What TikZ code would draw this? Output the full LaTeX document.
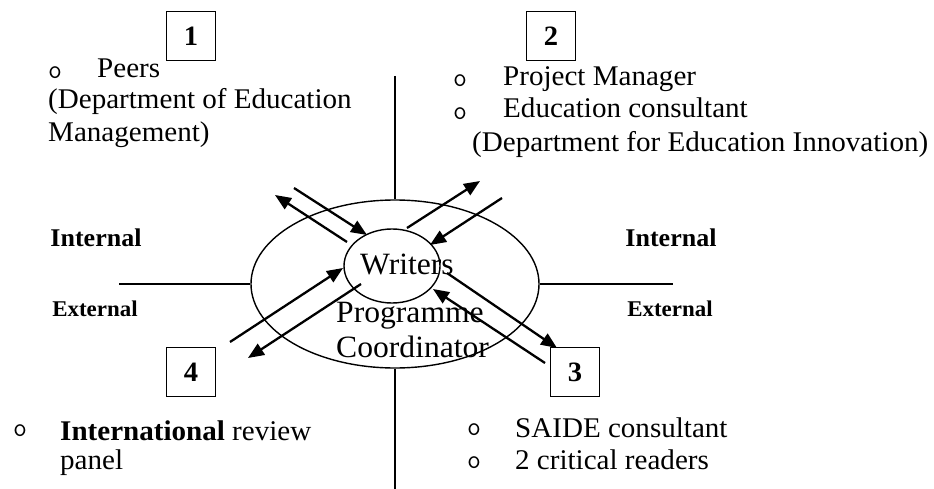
\documentclass[tikz,border=0pt]{standalone}
\usepackage{fontspec}
\setmainfont{Liberation Serif}[FakeStretch=1.02]
\usetikzlibrary{arrows.meta,shapes.geometric}
\begin{document}
\begin{tikzpicture}[x=1pt,y=-1pt,
  txt/.style={anchor=base west, inner sep=0pt, font=\fontsize{28.5}{34}\selectfont},
  ctr/.style={anchor=base west, inner sep=0pt, font=\fontsize{31}{37}\selectfont},
  lbl/.style={anchor=base, inner sep=0pt, font=\bfseries\fontsize{25.5}{30}\selectfont},
  extlbl/.style={anchor=base, inner sep=0pt, font=\bfseries\fontsize{22.5}{27}\selectfont},
  numbox/.style={draw, line width=1.3pt, minimum size=49pt, inner sep=0pt, font=\bfseries\fontsize{28}{32}\selectfont},
  bul/.style={inner sep=0pt, font=\ttfamily\fontsize{27}{30}\selectfont},
  arr/.style={line width=2.3pt, -{Triangle[length=16pt,width=13pt]}},
  thinline/.style={line width=1.4pt}
]
\useasboundingbox (0,0) rectangle (934,489);

% ellipses
\node[ellipse, draw, thinline, minimum width=288pt, minimum height=168pt, inner sep=0pt] (outer) at (395,284) {};
\node[ellipse, draw, thinline, minimum width=96pt, minimum height=74pt, inner sep=0pt] (inner) at (392,266) {};

% axis lines
\coordinate (hl) at (119,284);
\coordinate (hr) at (673,284);
\coordinate (vt) at (395,76);
\coordinate (vb) at (395,489);
\draw[thinline] (hl) -- (outer.west);
\draw[thinline] (outer.east) -- (hr);
\draw[thinline] (vt) -- (outer.north);
\draw[thinline] (outer.south) -- (vb);

% centre texts
\node[ctr] (writers) at (360,274) {Writers};
\node[ctr] (prog) at (336,322) {Programme};
\node[ctr] (coord) at (336,357) {Coordinator};

% internal/external labels
\node[lbl] (intl) at (96,246) {Internal};
\node[lbl] (intr) at (671,246) {Internal};
\node[extlbl] (extl) at (95,316) {External};
\node[extlbl] (extr) at (670,316) {External};

% number boxes
\node[numbox] (n1) at (191,36) {1};
\node[numbox] (n2) at (551,36) {2};
\node[numbox] (n4) at (191,372) {4};
\node[numbox] (n3) at (575,372) {3};

% group 1
\node[bul] (b1) at (55,73) {o};
\node[txt] (t1a) at (97,78) {Peers};
\node[txt] (t1b) at (48,109) {(Department of Education};
\node[txt] (t1c) at (48,142) {Management)};

% group 2
\node[bul] (b2a) at (460,81) {o};
\node[txt] (t2a) at (503,86) {Project Manager};
\node[bul] (b2b) at (460,114) {o};
\node[txt] (t2b) at (503,118) {Education consultant};
\node[txt] (t2c) at (472,152) {(Department for Education Innovation)};

% group 4
\node[bul] (b4) at (20,431) {o};
\node[txt] (t4a) at (60,440) {\textbf{International} review};
\node[txt] (t4b) at (60,469) {panel};

% group 3
\node[bul] (b3a) at (474,430) {o};
\node[txt] (t3a) at (515,437) {SAIDE consultant};
\node[bul] (b3b) at (474,463) {o};
\node[txt] (t3b) at (515,469) {2 critical readers};

% arrows
\coordinate (a1) at (347,242); \coordinate (a2) at (275,195);
\coordinate (b1s) at (294,188); \coordinate (b2e) at (367,235);
\coordinate (c1) at (407,228); \coordinate (c2) at (480,181);
\coordinate (d1) at (502,198); \coordinate (d2) at (430,245);
\coordinate (e1) at (230,342); \coordinate (e2) at (343,268);
\coordinate (f1) at (361,284); \coordinate (f2) at (248,358);
\coordinate (g1) at (447,273); \coordinate (g2) at (557,348);
\coordinate (h1) at (545,363); \coordinate (h2) at (433,289);
\draw[arr] (a1) -- (a2);
\draw[arr] (b1s) -- (b2e);
\draw[arr] (c1) -- (c2);
\draw[arr] (d1) -- (d2);
\draw[arr] (e1) -- (e2);
\draw[arr] (f1) -- (f2);
\draw[arr] (g1) -- (g2);
\draw[arr] (h1) -- (h2);
\end{tikzpicture}
\end{document}
